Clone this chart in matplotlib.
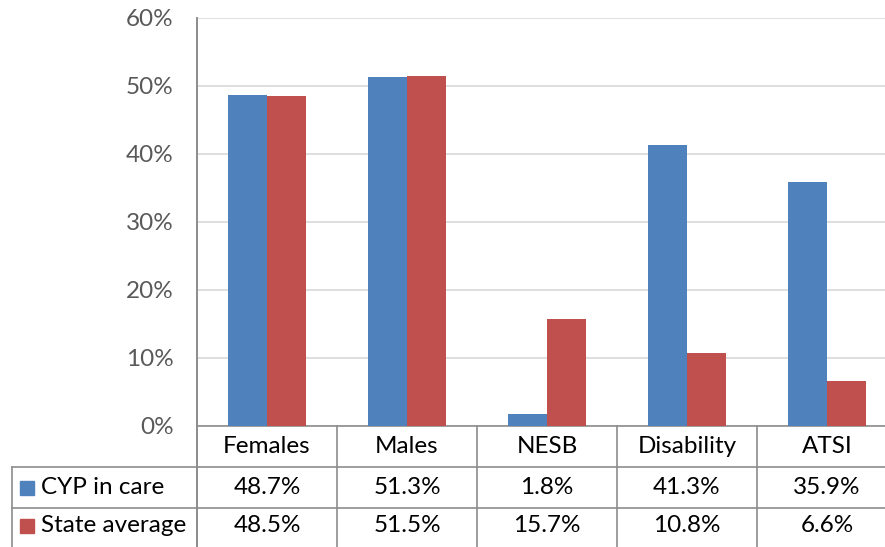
import matplotlib
matplotlib.use("Agg")
import matplotlib.pyplot as plt
from matplotlib.lines import Line2D
from matplotlib.patches import Rectangle
import numpy as np

categories = ["Females", "Males", "NESB", "Disability", "ATSI"]
series_names = ["CYP in care", "State average"]
cyp_in_care = [48.7, 51.3, 1.8, 41.3, 35.9]
state_average = [48.5, 51.5, 15.7, 10.8, 6.6]
y_ticks = [0, 10, 20, 30, 40, 50, 60]

blue = "#4F81BD"
red = "#C0504D"
line_gray = "#8C8C8C"
grid_gray = "#D9D9D9"
font = "Lato"
fs = 17.5

W, H = 885, 547
fig = plt.figure(figsize=(W / 100, H / 100), dpi=100)

# plot area in pixels (the last column runs off the right edge)
left_px, right_px, top_px, base_px = 197, 897, 18, 426
ax = fig.add_axes([left_px / W, (H - base_px) / H,
                   (right_px - left_px) / W, (base_px - top_px) / H])

x = np.arange(len(categories))
bw = 0.28
ax.bar(x - bw / 2, cyp_in_care, bw, color=blue, zorder=3)
ax.bar(x + bw / 2, state_average, bw, color=red, zorder=3)

ax.set_xlim(-0.5, len(categories) - 0.5)
ax.set_ylim(0, 60)
ax.set_yticks(y_ticks)
ax.set_yticklabels([f"{t}%" for t in y_ticks], fontsize=fs, color="#595959",
                   family=font)
ax.tick_params(axis="y", length=0, pad=17)
ax.set_xticks([])
ax.yaxis.grid(True, color=grid_gray, linewidth=1.2, zorder=0)
for s in ["top", "right", "bottom"]:
    ax.spines[s].set_visible(False)
ax.spines["left"].set_color(line_gray)
ax.spines["left"].set_linewidth(1.2)

# data table below the plot, drawn in axes-fraction coordinates
ax_h = base_px - top_px
ax_w = right_px - left_px
row_h = 41 / ax_h
rows_y = [0, -row_h, -2 * row_h, -(H - base_px) / ax_h]
legend_left = (12 - left_px) / ax_w
tr = ax.transAxes
lk = dict(color=line_gray, linewidth=1.2, transform=tr, clip_on=False)

# horizontal rules
ax.add_line(Line2D([0, 1.05], [0, 0], **lk))
for yy in rows_y[1:3]:
    ax.add_line(Line2D([legend_left, 1.05], [yy, yy], **lk))
# vertical rules between columns
ncat = len(categories)
for i in range(ncat + 1):
    xx = i / ncat
    ax.add_line(Line2D([xx, xx], [0, rows_y[3]], **lk))
ax.add_line(Line2D([0, 0], [1, rows_y[3]], **lk))
ax.add_line(Line2D([legend_left, legend_left], [rows_y[1], rows_y[3]], **lk))

txt = dict(fontsize=fs, color="black", family=font, transform=tr,
           ha="center", va="center", clip_on=False)
for i, c in enumerate(categories):
    cx = (i + 0.5) / ncat
    ax.text(cx, (rows_y[0] + rows_y[1]) / 2, c, **txt)
    ax.text(cx, (rows_y[1] + rows_y[2]) / 2, f"{cyp_in_care[i]:.1f}%", **txt)
    ax.text(cx, (rows_y[2] + rows_y[3]) / 2 + 0.004, f"{state_average[i]:.1f}%", **txt)

# legend keys inside the table
key_w = 14 / ax_w
key_h = 14 / ax_h
for name, col, (y0, y1) in zip(series_names, [blue, red],
                               [(rows_y[1], rows_y[2]), (rows_y[2], rows_y[3])]):
    cy = (y0 + y1) / 2 + (0.004 if col == red else 0)
    kx = (20 - left_px) / ax_w
    ax.add_patch(Rectangle((kx, cy - key_h / 2), key_w, key_h, color=col,
                           transform=tr, clip_on=False))
    ax.text((41 - left_px) / ax_w, cy, name, fontsize=fs, color="black",
            family=font, transform=tr, ha="left", va="center", clip_on=False)

fig.savefig("out.png", dpi=100)
